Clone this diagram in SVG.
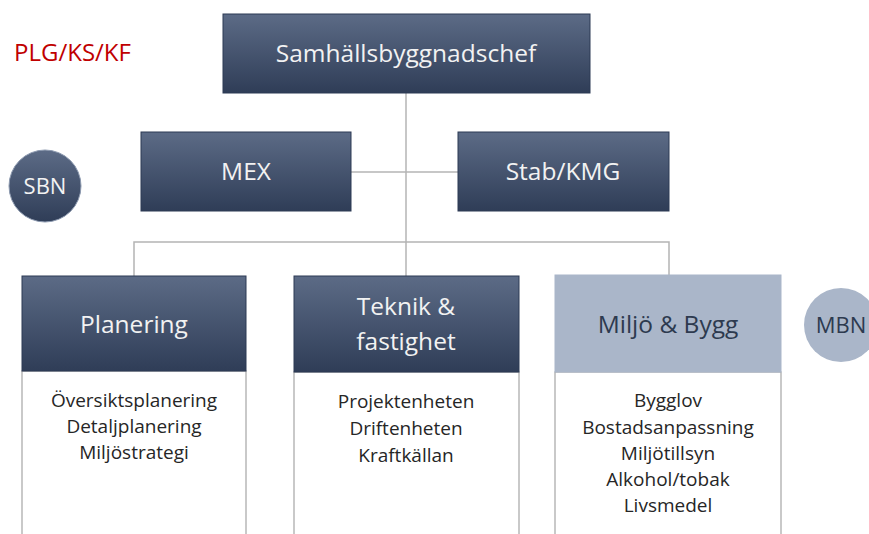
<svg xmlns="http://www.w3.org/2000/svg" width="869" height="534" viewBox="0 0 869 534">
<defs>
<linearGradient id="dk" x1="0" y1="0" x2="0" y2="1">
<stop offset="0" stop-color="#5c6b86"/>
<stop offset="1" stop-color="#2f3d57"/>
</linearGradient>
<style>
.dark{fill:url(#dk);stroke:#2c3a54;stroke-width:1}
.light{fill:#aab6c9;stroke:#aab6c9;stroke-width:1}
.body{fill:#ffffff;stroke:#a6a6a6;stroke-width:1.2}
.hw{font-family:"Open Sans",Lato,sans-serif;fill:#f2f2f2;text-anchor:middle}
.hd{font-family:"Open Sans",Lato,sans-serif;fill:#2d3a4f;text-anchor:middle}
.bt{font-family:"Open Sans",Lato,sans-serif;fill:#262626;text-anchor:middle;font-size:19px}
.conn{fill:none;stroke:#b4b4b4;stroke-width:1.5}
</style>
</defs>
<rect width="869" height="534" fill="#ffffff"/>
<g id="connectors">
<line class="conn" x1="406" y1="93" x2="406" y2="276"/>
<line class="conn" x1="351" y1="172" x2="458" y2="172"/>
<polyline class="conn" points="134,276 134,242 669,242 669,275"/>
</g>
<g id="plg">
<text x="14" y="61" font-family="'Open Sans',Lato,sans-serif" font-size="24" fill="#c00000">PLG/KS/KF</text>
</g>
<g id="chef">
<rect class="dark" x="223" y="14" width="367" height="79"/>
<text class="hw" x="406" y="62" font-size="24.5">Samhällsbyggnadschef</text>
</g>
<g id="mex">
<rect class="dark" x="141" y="132" width="210" height="79"/>
<text class="hw" x="246" y="180" font-size="24.5">MEX</text>
</g>
<g id="stab">
<rect class="dark" x="458" y="132" width="211" height="79"/>
<text class="hw" x="563" y="180" font-size="24.5">Stab/KMG</text>
</g>
<g id="sbn">
<circle cx="45" cy="186" r="36" fill="url(#dk)" stroke="#8d9ab0" stroke-width="1"/>
<text class="hw" x="45" y="194" font-size="22">SBN</text>
</g>
<g id="mbn">
<circle cx="841" cy="325" r="37" fill="#aab6c9"/>
<text class="hd" x="841" y="333" font-size="22">MBN</text>
</g>
<g id="planering">
<rect class="body" x="22" y="371" width="224" height="170"/>
<rect class="dark" x="22" y="276" width="224" height="95"/>
<text class="hw" x="134" y="333" font-size="24.5">Planering</text>
<text class="bt" x="134" y="407">Översiktsplanering</text>
<text class="bt" x="134" y="433">Detaljplanering</text>
<text class="bt" x="134" y="459">Miljöstrategi</text>
</g>
<g id="teknik">
<rect class="body" x="294" y="372" width="225" height="170"/>
<rect class="dark" x="294" y="276" width="225" height="96"/>
<text class="hw" x="406" y="315" font-size="24.5">Teknik &amp;</text>
<text class="hw" x="406" y="350" font-size="24.5">fastighet</text>
<text class="bt" x="406" y="408">Projektenheten</text>
<text class="bt" x="406" y="435">Driftenheten</text>
<text class="bt" x="406" y="462">Kraftkällan</text>
</g>
<g id="miljo">
<rect class="body" x="555" y="372" width="226" height="170"/>
<rect class="light" x="555" y="275" width="226" height="97"/>
<text class="hd" x="668" y="333" font-size="24.5">Miljö &amp; Bygg</text>
<text class="bt" x="668" y="407">Bygglov</text>
<text class="bt" x="668" y="434">Bostadsanpassning</text>
<text class="bt" x="668" y="460">Miljötillsyn</text>
<text class="bt" x="668" y="486">Alkohol/tobak</text>
<text class="bt" x="668" y="512">Livsmedel</text>
</g>
</svg>
